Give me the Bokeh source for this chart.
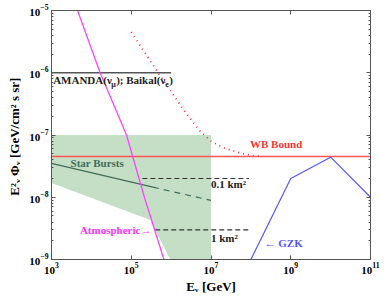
from bokeh.plotting import figure
from bokeh.models import LogAxis, FixedTicker, Label
from bokeh.embed import file_html
from bokeh.resources import INLINE

# ---- data ----
atm_E = [4.5e3, 1.66e4, 7.6e4, 2.14e5, 6.6e5]
atm_F = [1e-5, 1e-6, 1e-7, 1e-8, 1e-9]

amanda_E = [1e3, 1e6]
amanda_F = [1e-6, 1e-6]

band_E = [1e3, 1e7, 1e7, 9.5e5, 3e5, 1e3]
band_F = [1e-7, 1e-7, 1e-9, 1e-9, 4.3e-9, 1.7e-8]

sb_E = [1e3, 3.5e5]
sb_F = [3.5e-8, 1.45e-8]
sb_dash_E = [3.5e5, 1e7]
sb_dash_F = [1.45e-8, 8.9e-9]

wb_E = [1e3, 1e11]
wb_F = [4.5e-8, 4.5e-8]
wbd_E = [1e5, 2e5, 5e5, 1e6, 2e6, 5e6, 1e7, 2e7, 5e7, 1e8, 2e8]
wbd_F = [4.5e-6, 2.3e-6, 9.5e-7, 5e-7, 2.6e-7, 1.2e-7, 8e-8, 6.3e-8, 5.2e-8, 4.7e-8, 4.5e-8]

gzk_E = [1e8, 1e9, 1e10, 1e11]
gzk_F = [1e-9, 2e-8, 4.4e-8, 1e-8]

km01_E = [1.9e5, 9e7]
km01_F = [2e-8, 2e-8]
km1_E = [4e5, 1e8]
km1_F = [3e-9, 3e-9]

x_ticks = [1e3, 1e5, 1e7, 1e9, 1e11]
y_ticks = [1e-9, 1e-8, 1e-7, 1e-6, 1e-5]
y_minor = [m * d for d in [1e-9, 1e-8, 1e-7, 1e-6] for m in range(2, 10)]

FONT = "Liberation Serif"

p = figure(width=380, height=298, x_axis_type="log", y_axis_type="log",
           x_range=(1e3, 1e11), y_range=(1e-9, 1e-5),
           output_backend="svg", toolbar_location=None,
           min_border_left=51, min_border_right=10, min_border_top=10, min_border_bottom=39)
p.grid.visible = False
p.outline_line_color = "#555555"
p.background_fill_color = "white"

# band
p.patch(band_E, band_F, fill_color="#c4dfc6", line_color=None)

# lines
p.line(amanda_E, amanda_F, line_color="#555555", line_width=1.5)
p.line(wb_E, wb_F, line_color="#ff5555", line_width=1.5)
p.line(wbd_E, wbd_F, line_color="#ff3333", line_width=1.8, line_dash="1 4")
p.line(sb_E, sb_F, line_color="#3f6e58", line_width=1.2)
p.line(sb_dash_E, sb_dash_F, line_color="#3f6e58", line_width=1.2, line_dash="6 5")
p.line(km01_E, km01_F, line_color="#333333", line_width=1.2, line_dash="5 3")
p.line(km1_E, km1_F, line_color="#333333", line_width=1.2, line_dash="5 3")
p.line(atm_E, atm_F, line_color="#ff44ff", line_width=1.3)
p.line(gzk_E, gzk_F, line_color="#5555ff", line_width=1.2)

# axes styling
for ax in [p.xaxis[0], p.yaxis[0]]:
    ax.axis_line_color = "#555555"
    ax.major_tick_line_color = "#555555"
    ax.minor_tick_line_color = "#555555"
    ax.major_tick_in = 4
    ax.major_tick_out = 0
    ax.minor_tick_in = 2
    ax.minor_tick_out = 0
    ax.major_label_text_font = FONT
    ax.major_label_text_font_style = "bold"
    ax.major_label_text_font_size = "11px"
    ax.major_label_text_color = "black"
    ax.axis_label_text_font = FONT
    ax.axis_label_text_font_style = "bold"
    ax.axis_label_text_font_size = "13px"
    ax.axis_label_text_color = "black"

p.xaxis[0].ticker = FixedTicker(ticks=x_ticks)
p.xaxis[0].minor_tick_line_color = None
p.yaxis[0].ticker = FixedTicker(ticks=y_ticks, minor_ticks=y_minor)
p.xaxis[0].axis_label = "Eᵥ [GeV]"
p.yaxis[0].axis_label = "E²ᵥ Φᵥ  [GeV/cm² s sr]"
p.xaxis[0].major_label_standoff = 3
p.yaxis[0].major_label_standoff = 3
p.xaxis[0].axis_label_standoff = 2
p.yaxis[0].axis_label_standoff = 4

top = LogAxis(ticker=FixedTicker(ticks=x_ticks), major_label_text_font_size="1px",
              major_label_text_color=None,
              major_tick_in=4, major_tick_out=0, major_label_standoff=0,
              axis_line_color="#555555", major_tick_line_color="#555555",
              minor_tick_line_color=None)
right = LogAxis(ticker=FixedTicker(ticks=y_ticks, minor_ticks=y_minor), major_label_text_font_size="1px",
                major_label_text_color=None,
                major_tick_in=4, major_tick_out=0, minor_tick_in=2, minor_tick_out=0,
                major_label_standoff=0,
                axis_line_color="#555555", major_tick_line_color="#555555",
                minor_tick_line_color="#555555")
p.add_layout(top, "above")
p.add_layout(right, "right")

def lab(x, y, text, color, size="11px", align="left", xo=0, yo=0):
    p.add_layout(Label(x=x, y=y, text=text, text_color=color, text_font=FONT,
                       text_font_style="bold", text_font_size=size, text_align=align,
                       text_baseline="middle", x_offset=xo, y_offset=yo))

# AMANDA label with subscripts
ax_, ay_ = 1.1e3, 7.6e-7
lab(ax_, ay_, "AMANDA(ν", "#222222")
lab(ax_, ay_, "μ", "#222222", size="8px", xo=58, yo=-4)
lab(ax_, ay_, "); Baikal(ν", "#222222", xo=63)
lab(ax_, ay_, "e", "#222222", size="8px", xo=112, yo=-4)
lab(ax_, ay_, ")", "#222222", xo=116)

lab(3e3, 3.6e-8, "Star Bursts", "#3f6e58")
lab(9.5e7, 7.1e-8, "WB Bound", "#ff3333")
lab(1e7, 1.65e-8, "0.1 km²", "#222222")
lab(1e7, 2.2e-9, "1 km²", "#222222")
lab(3.2e5, 2.95e-9, "Atmospheric→", "#ff33ff", align="right")
lab(2.2e8, 1.85e-9, "← GZK", "#5555ff")

open("out.html", "w").write(file_html(p, INLINE))
